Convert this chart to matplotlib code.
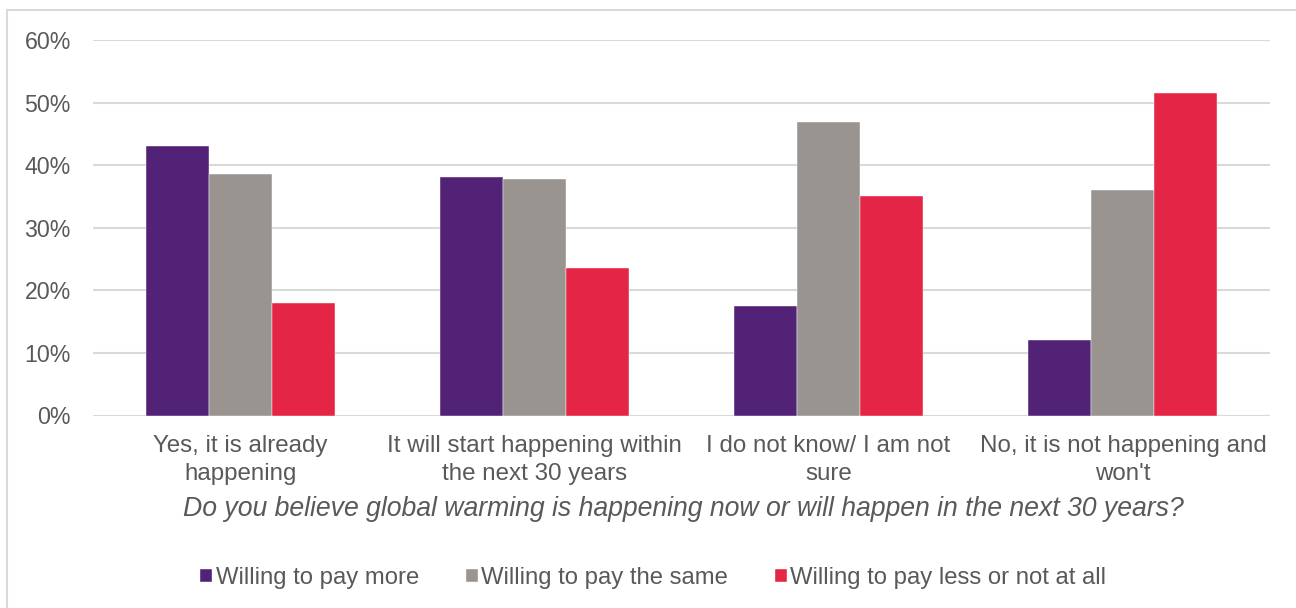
import matplotlib
matplotlib.use("Agg")
import matplotlib.pyplot as plt
from matplotlib.patches import Rectangle
import numpy as np

plt.rcParams["font.family"] = ["Liberation Sans", "DejaVu Sans"]

categories = ["Yes, it is already\nhappening",
              "It will start happening within\nthe next 30 years",
              "I do not know/ I am not\nsure",
              "No, it is not happening and\nwon't"]
series_names = ["Willing to pay more", "Willing to pay the same",
                "Willing to pay less or not at all"]
pay_more = [43.0, 38.1, 17.5, 12.1]
pay_same = [38.6, 37.8, 46.9, 36.0]
pay_less = [18.0, 23.6, 35.1, 51.5]
yticks = [0, 10, 20, 30, 40, 50, 60]

colors = ["#522277", "#9A9490", "#E52546"]
TXT = "#595959"
GRID = "#D9D9D9"

fig = plt.figure(figsize=(12.96, 6.08), dpi=100)
fig.patch.set_facecolor("white")

# outer frame (runs off right/bottom edges like the original)
fig.patches.append(Rectangle((7 / 1296, -0.05), 1.1, 0.05 + 598 / 608,
                             transform=fig.transFigure, fill=False,
                             edgecolor=GRID, linewidth=1.5))

ax = fig.add_axes([93 / 1296, 192.5 / 608, 1177 / 1296, 375.5 / 608])
x = np.arange(len(categories))
w = 0.214
for i, (vals, name) in enumerate(zip([pay_more, pay_same, pay_less], series_names)):
    ax.bar(x + (i - 1) * w, vals, width=w, color=colors[i], label=name,
           edgecolor="white", linewidth=0.3, zorder=3)

ax.set_xlim(-0.5, len(categories) - 0.5)
ax.set_ylim(0, 60)
ax.set_yticks(yticks)
ax.set_yticklabels([f"{t}%" for t in yticks])
ax.yaxis.grid(True, color=GRID, linewidth=1.5, zorder=0)
ax.set_axisbelow(True)
for sp in ax.spines.values():
    sp.set_visible(False)
ax.tick_params(axis="y", length=0, pad=16, labelsize=16.7, labelcolor=TXT)
ax.set_xticks(x)
ax.set_xticklabels(categories, linespacing=1.38)
ax.tick_params(axis="x", length=0, pad=14, labelsize=17.4, labelcolor=TXT)

fig.text(683.5 / 1296, 1 - 509 / 608,
         "Do you believe global warming is happening now or will happen in the next 30 years?",
         ha="center", va="center", style="italic", fontsize=19.2, color=TXT)

leg = fig.legend(loc="center", bbox_to_anchor=(0.504, 30 / 608), ncol=3,
                 frameon=False, fontsize=17.2, handlelength=0.5, handleheight=0.5,
                 handletextpad=0.15, columnspacing=1.95, labelcolor=TXT)

plt.savefig("out.png", dpi=100, facecolor=fig.get_facecolor())
